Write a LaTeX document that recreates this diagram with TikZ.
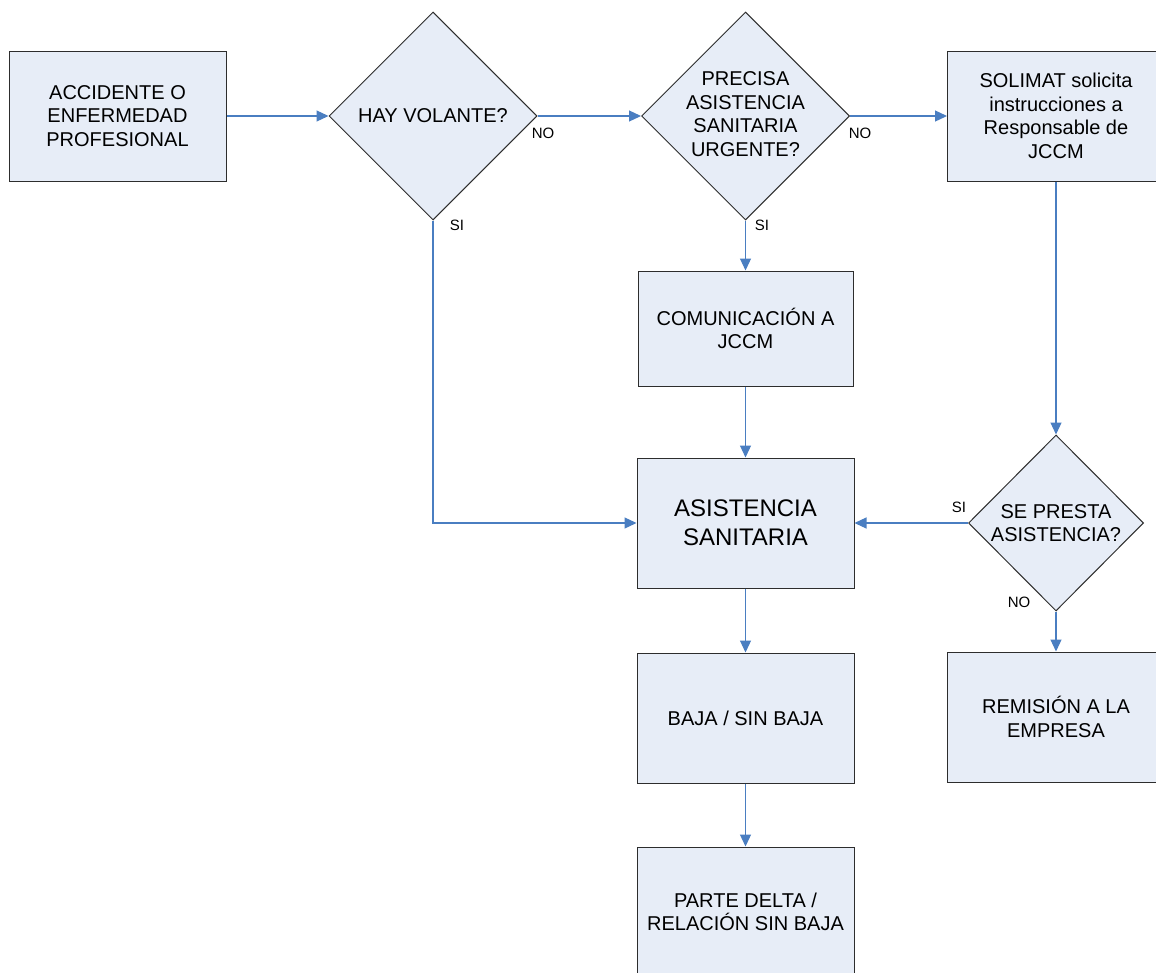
\documentclass[tikz,border=0pt]{standalone}
\usepackage{fontspec}
\setmainfont{Liberation Sans}
\usetikzlibrary{shapes.geometric,arrows.meta}
\definecolor{boxfill}{RGB}{231,237,247}
\definecolor{linkblue}{RGB}{74,126,193}
\definecolor{edgegrey}{RGB}{45,45,45}
\begin{document}
\begin{tikzpicture}[x=1pt,y=-1pt,
  procbox/.style={draw=edgegrey, line width=1pt, fill=boxfill, minimum width=217pt, minimum height=130pt, inner sep=0pt, align=center, font=\fontsize{20}{23.5}\selectfont},
  decbox/.style={diamond, draw=edgegrey, line width=1pt, fill=boxfill, minimum width=208pt, minimum height=208pt, inner sep=0pt},
  dectext/.style={align=center, font=\fontsize{20}{23.5}\selectfont, inner sep=0pt},
  link/.style={draw=linkblue, line width=1.2pt, -{Triangle[length=12pt,width=11pt]}},
  answer/.style={font=\fontsize{15}{17}\selectfont, inner sep=0pt}]
\useasboundingbox (0,0) rectangle (1156,972);
\clip (0,0) rectangle (1156,972);
\fill[white] (0,0) rectangle (1156,972);

% process boxes
\node[procbox] (acc) at (117.5,116) {ACCIDENTE O\\ENFERMEDAD\\PROFESIONAL};
\node[procbox] (sol) at (1056,116) {SOLIMAT solicita\\instrucciones a\\Responsable de\\JCCM};
\node[procbox, minimum width=215pt, minimum height=115pt] (com) at (745.5,328.5) {COMUNICACIÓN A\\JCCM};
\node[procbox, font=\fontsize{24}{29}\selectfont] (asis) at (745.5,523) {ASISTENCIA\\SANITARIA};
\node[procbox] (baja) at (745.5,718) {BAJA / SIN BAJA};
\node[procbox] (rem) at (1056,717) {REMISIÓN A LA\\EMPRESA};
\node[procbox] (parte) at (745.5,912) {PARTE DELTA /\\RELACIÓN SIN BAJA};

% decisions
\node[decbox] (hay) at (433,116) {};
\node[dectext] (hayT) at (hay.center) {HAY VOLANTE?};
\node[decbox] (prec) at (745.5,116) {};
\node[dectext] (precT) at ([yshift=2pt]prec.center) {PRECISA\\ASISTENCIA\\SANITARIA\\URGENTE?};
\node[decbox, minimum width=175pt, minimum height=176pt] (pres) at (1056,523) {};
\node[dectext] (presT) at (pres.center) {SE PRESTA\\ASISTENCIA?};

% connectors
\draw[link] (acc.east) -- (hay.west);
\draw[link] (hay.east) -- (prec.west);
\draw[link] (prec.east) -- (sol.west);
\draw[link] (hay.south) |- (asis.west);
\draw[link] (prec.south) -- (com.north);
\draw[link] (com.south) -- (asis.north);
\draw[link] (sol.south) -- (pres.north);
\draw[link] (pres.west) -- (asis.east);
\draw[link] (pres.south) -- (rem.north);
\draw[link] (asis.south) -- (baja.north);
\draw[link] (baja.south) -- (parte.north);

% answers
\node[answer] (noHay) at (543,133) {NO};
\node[answer] (siHay) at (457,225) {SI};
\node[answer] (noPrec) at (860,133) {NO};
\node[answer] (siPrec) at (762,225) {SI};
\node[answer] (siPres) at (959,507) {SI};
\node[answer] (noPres) at (1019,602) {NO};
\end{tikzpicture}
\end{document}
